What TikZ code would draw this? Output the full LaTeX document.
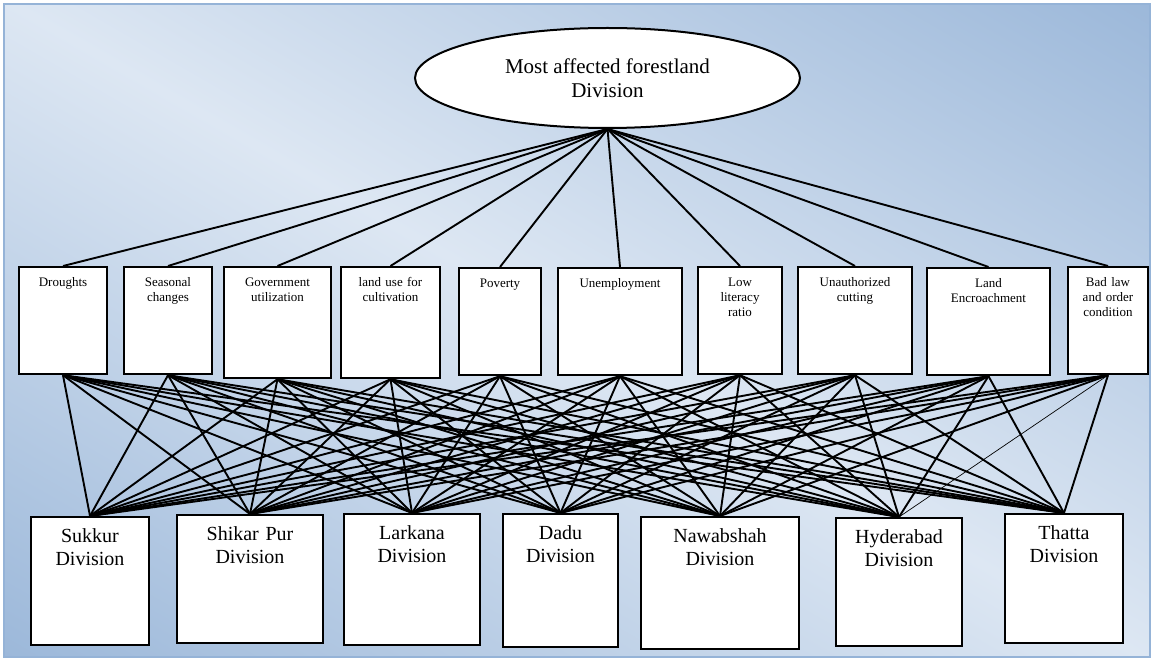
\documentclass[tikz,border=0pt]{standalone}
\usepackage{fontspec}
\setmainfont{Liberation Serif}
\usetikzlibrary{shapes.geometric}

\definecolor{bgdark}{RGB}{149,179,215}
\definecolor{bglight}{RGB}{221,231,243}
\pgfdeclareverticalshading{bgshade}{100bp}{color(0bp)=(bgdark); color(12bp)=(bgdark); color(50bp)=(bglight); color(88bp)=(bgdark); color(100bp)=(bgdark)}

\begin{document}
\begin{tikzpicture}[x=1pt, y=-1pt]
	\useasboundingbox (0,0) rectangle (1152,660);
	\shade[shading=bgshade, shading angle=-30] (4,4) rectangle (1150,657);
	\draw[bgdark, line width=2pt] (4,4) rectangle (1150,657);

	\node[ellipse, draw, fill=white, line width=2pt, minimum width=385, minimum height=100, inner sep=0pt, align=center, font=\fontsize{21}{24}\selectfont] (goal) at (607.5,78) {Most affected forestland\\Division};

	% causes
	\begin{scope}[every node/.style={draw, fill=white, anchor=north, line width=2.2pt, align=center, inner xsep=2pt, inner ysep=0pt, text height=19pt, text depth=88pt, font=\fontsize{13}{15}\selectfont}]
		\node[text width=84pt] (c1) at (63,266) {Droughts};
		\node[text width=84pt] (c2) at (168,266) {Seasonal\\changes};
		\node[text width=103pt, text depth=92pt] (c3) at (277.5,266) {Government\\utilization};
		\node[text width=95pt, text depth=92pt] (c4) at (390.5,266) {land use for\\cultivation};
		\node[text width=78pt] (c5) at (500,267) {Poverty};
		\node[text width=120pt] (c6) at (620,267) {Unemployment};
		\node[text width=80pt] (c7) at (740,266) {Low\\literacy\\ratio};
		\node[text width=110pt] (c8) at (855,266) {Unauthorized\\cutting};
		\node[text width=119pt] (c9) at (988.5,267) {Land\\Encroachment};
		\node[text width=76pt] (c10) at (1108,266) {Bad law\\and order\\condition};
	\end{scope}

	% divisions
	\begin{scope}[every node/.style={draw, fill=white, anchor=north, line width=2.2pt, align=center, inner xsep=2pt, inner ysep=0pt, text height=25.5pt, text depth=102.5pt, font=\fontsize{20}{23}\selectfont}]
		\node[text width=114pt] (d1) at (90,516) {Sukkur\\Division};
		\node[text width=142pt] (d2) at (250,514) {Shikar Pur\\Division};
		\node[text width=132pt, text depth=105.5pt] (d3) at (412,513) {Larkana\\Division};
		\node[text width=111pt, text depth=107.5pt] (d4) at (560.5,513) {Dadu\\Division};
		\node[text width=154pt, text depth=106.5pt] (d5) at (720,516) {Nawabshah\\Division};
		\node[text width=122pt] (d6) at (899,517) {Hyderabad\\Division};
		\node[text width=114pt, text depth=103.5pt] (d7) at (1064,513) {Thatta\\Division};
	\end{scope}

	\begin{scope}[line width=1.9pt]
		\foreach \c in {1,...,10}
			\draw (goal.south) -- (c\c.north);
		\foreach \c in {1,...,9}
			\foreach \d in {1,...,7}
				\draw (c\c.south) -- (d\d.north);
		\foreach \d in {1,2,3,4,5,7}
			\draw (c10.south) -- (d\d.north);
		\draw[line width=0.7pt] (c10.south) -- (d6.north);
	\end{scope}
\end{tikzpicture}
\end{document}
